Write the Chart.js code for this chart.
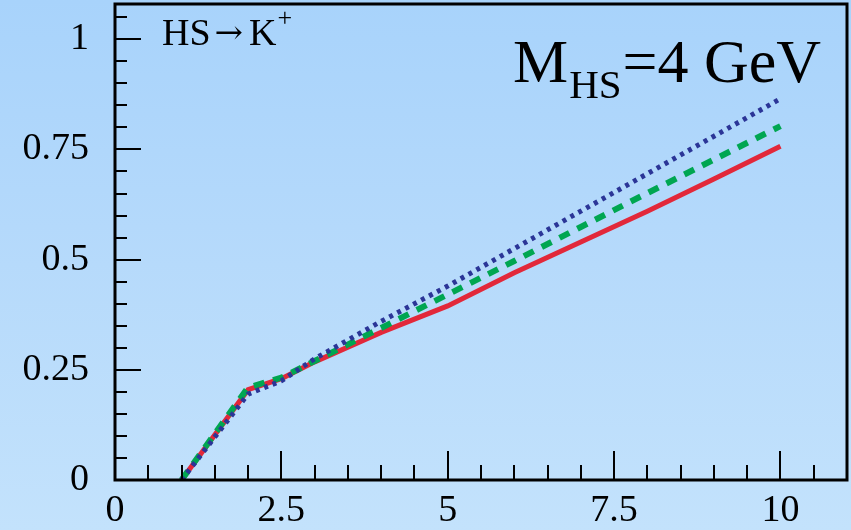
<!DOCTYPE html>
<html>
<head>
<meta charset="utf-8">
<script src="https://cdn.jsdelivr.net/npm/chart.js@4.4.1/dist/chart.umd.min.js"></script>
<style>
  html, body {
    margin: 0;
    padding: 0;
    background: #b4daf9;
  }
  #hs-kaon-chart {
    display: block;
    background: linear-gradient(to bottom, #a8d3fb 0%, #b6dafb 50%, #c3e2fc 100%);
  }
</style>
</head>
<body>
<canvas id="hs-kaon-chart" width="851" height="530"></canvas>
<script>
// beam energy points
let energies = [1, 2, 2.5, 3, 4, 5, 6, 7, 8, 9, 10];

// K+ fraction, three model variants
let solidValues = [0, 0.205, 0.23, 0.268, 0.335, 0.395, 0.47, 0.54, 0.61, 0.683, 0.757];
let dashedValues = [0, 0.21, 0.232, 0.27, 0.345, 0.421, 0.497, 0.574, 0.651, 0.727, 0.803];
let dottedValues = [0, 0.195, 0.225, 0.275, 0.36, 0.44, 0.525, 0.61, 0.695, 0.78, 0.865];

let xTickLabels = ["0", "2.5", "5", "7.5", "10"];
let yTickLabels = ["0", "0.25", "0.5", "0.75", "1"];

let serif = "'Liberation Serif', 'DejaVu Serif', serif";

function toPoints(values) {
  return energies.map((e, i) => ({ x: e, y: values[i] }));
}

function isMultiple(v, step) {
  let r = v / step;
  return Math.abs(r - Math.round(r)) < 1e-6;
}

// ROOT-like frame with inward ticks on left and bottom axes
let frameTicks = {
  id: "frameTicks",
  afterDraw(chart) {
    let ctx = chart.ctx;
    let area = chart.chartArea;
    let xs = chart.scales.x;
    let ys = chart.scales.y;
    ctx.save();
    ctx.strokeStyle = "#000";
    ctx.lineWidth = 2;
    xs.ticks.forEach((t) => {
      if (!isMultiple(t.value, 0.5)) return;
      let px = Math.round(xs.getPixelForValue(t.value));
      let len = isMultiple(t.value, 2.5) ? 29 : 15;
      ctx.beginPath();
      ctx.moveTo(px, area.bottom);
      ctx.lineTo(px, area.bottom - len);
      ctx.stroke();
    });
    ys.ticks.forEach((t) => {
      if (!isMultiple(t.value, 0.05)) return;
      let py = Math.round(ys.getPixelForValue(t.value));
      let len = isMultiple(t.value, 0.25) ? 26 : 12;
      ctx.beginPath();
      ctx.moveTo(area.left, py);
      ctx.lineTo(area.left + len, py);
      ctx.stroke();
    });
    ctx.lineWidth = 3;
    ctx.strokeRect(area.left, area.top, area.right - area.left, area.bottom - area.top);

    // process label, top left
    ctx.fillStyle = "#000";
    ctx.textBaseline = "alphabetic";
    ctx.textAlign = "left";
    ctx.font = "38px " + serif;
    let x = area.left + 47;
    ctx.fillText("HS", x, 45);
    x += ctx.measureText("HS").width + 4;
    ctx.font = "40px 'DejaVu Serif', serif";
    ctx.save();
    ctx.translate(x, 43);
    ctx.scale(0.85, 0.8);
    ctx.fillText("\u2192", 0, 0);
    x += ctx.measureText("\u2192").width * 0.85 + 6;
    ctx.restore();
    ctx.font = "38px " + serif;
    ctx.fillText("K", x, 45);
    x += ctx.measureText("K").width + 1;
    ctx.font = "26px " + serif;
    ctx.fillText("+", x, 26);

    // mass label, top right
    ctx.font = "62px " + serif;
    x = 513;
    ctx.fillText("M", x, 82);
    x += ctx.measureText("M").width + 1;
    ctx.font = "41px " + serif;
    ctx.fillText("HS", x, 98);
    x += ctx.measureText("HS").width + 1;
    ctx.font = "62px " + serif;
    ctx.fillText("=4 GeV", x, 82);
    ctx.restore();
  },
};

let hsKaonChart = new Chart("hs-kaon-chart", {
  type: "line",
  data: {
    datasets: [
      {
        label: "dotted",
        data: toPoints(dottedValues),
        borderColor: "#2b3597",
        borderWidth: 5,
        borderDash: [4, 5],
        pointRadius: 0,
        tension: 0,
      },
      {
        label: "dashed",
        data: toPoints(dashedValues),
        borderColor: "#00a651",
        borderWidth: 6,
        borderDash: [11, 9],
        pointRadius: 0,
        tension: 0,
      },
      {
        label: "solid",
        data: toPoints(solidValues),
        borderColor: "#e2283a",
        borderWidth: 5,
        pointRadius: 0,
        tension: 0,
      },
    ],
  },
  options: {
    responsive: false,
    animation: false,
    layout: {
      padding: { top: 4, right: 4, left: 0, bottom: 0 },
    },
    plugins: {
      legend: { display: false },
      tooltip: { enabled: false },
    },
    scales: {
      x: {
        type: "linear",
        min: 0,
        max: 11,
        afterFit: (scale) => {
          scale.height = 50;
          scale.paddingLeft = 0;
          scale.paddingRight = 0;
        },
        grid: { display: false, drawTicks: false },
        border: { display: false },
        ticks: {
          stepSize: 0.5,
          includeBounds: false,
          autoSkip: false,
          maxRotation: 0,
          padding: 8,
          color: "#000",
          font: { family: serif, size: 38 },
          callback: function (value) {
            if (!isMultiple(value, 2.5)) return "";
            return xTickLabels[Math.round(value / 2.5)];
          },
        },
      },
      y: {
        type: "linear",
        min: 0,
        max: 1.08,
        afterFit: (scale) => {
          scale.width = 115;
          scale.paddingTop = 0;
          scale.paddingBottom = 0;
        },
        grid: { display: false, drawTicks: false },
        border: { display: false },
        ticks: {
          stepSize: 0.05,
          includeBounds: false,
          autoSkip: false,
          padding: 26,
          color: "#000",
          font: { family: serif, size: 38 },
          callback: function (value) {
            if (!isMultiple(value, 0.25)) return "";
            return yTickLabels[Math.round(value / 0.25)];
          },
        },
      },
    },
  },
  plugins: [frameTicks],
});
</script>
</body>
</html>
